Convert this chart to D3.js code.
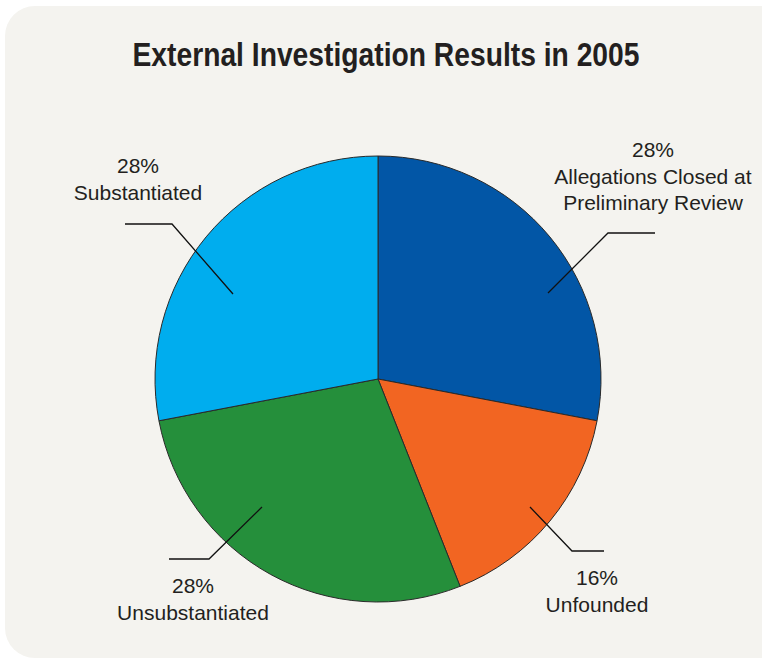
<!DOCTYPE html>
<html>
<head>
<meta charset="utf-8">
<script src="https://cdn.jsdelivr.net/npm/d3@7/dist/d3.min.js"></script>
<style>
  html, body { margin: 0; padding: 0; background: #ffffff; }
  svg { display: block; }
</style>
</head>
<body>
<script>
// Outcome of external investigations, 2005 (percent of cases)
const categories = [
  "Allegations Closed at Preliminary Review",
  "Unfounded",
  "Unsubstantiated",
  "Substantiated"
];
const values = [28, 16, 28, 28];
const sliceColors = ["#0256a6", "#f26522", "#258f3b", "#00adee"];
// Label lines as drawn (category text split for wrapping)
const labelLines = [
  ["Allegations Closed at", "Preliminary Review"],
  ["Unfounded"],
  ["Unsubstantiated"],
  ["Substantiated"]
];

const width = 762, height = 662;
const cx = 378, cy = 379, radius = 223;

// Callout layout: leader start (inside slice, offset from centre), elbow, end, label anchor
const callouts = [
  { pts: [[170, -86], [230, -146], [277, -146]], text: [653, 157] },
  { pts: [[152, 128], [194, 172], [226, 172]], text: [597, 585] },
  { pts: [[-116, 128], [-169, 180], [-209, 180]], text: [193, 593] },
  { pts: [[-145, -85], [-206, -155], [-253, -155]], text: [138, 173] }
];

const svg = d3.select("body").append("svg")
  .attr("width", width)
  .attr("height", height);

// Panel
svg.append("rect")
  .attr("x", 5).attr("y", 6)
  .attr("width", 790).attr("height", 652)
  .attr("rx", 30).attr("ry", 30)
  .attr("fill", "#f4f3ef");

// Title
svg.append("text")
  .attr("x", 386).attr("y", 66)
  .attr("text-anchor", "middle")
  .attr("font-family", "'Liberation Sans Narrow', 'Arial Narrow', 'Liberation Sans', Arial, sans-serif")
  .attr("font-weight", "bold")
  .attr("font-size", 33)
  .attr("fill", "#231f20")
  .attr("textLength", 507)
  .attr("lengthAdjust", "spacingAndGlyphs")
  .text("External Investigation Results in 2005");

// Pie
const pie = d3.pie().sort(null).value(d => d)(values);
const arc = d3.arc().innerRadius(0).outerRadius(radius);

const g = svg.append("g").attr("transform", `translate(${cx},${cy})`);

g.selectAll("path.slice")
  .data(pie)
  .join("path")
  .attr("class", "slice")
  .attr("d", arc)
  .attr("fill", (d, i) => sliceColors[i])
  .attr("stroke", "#2a2a2a")
  .attr("stroke-width", 1)
  .attr("stroke-linejoin", "round");

// Leader lines
const line = d3.line();
g.selectAll("path.leader")
  .data(callouts)
  .join("path")
  .attr("class", "leader")
  .attr("d", d => line(d.pts))
  .attr("fill", "none")
  .attr("stroke", "#111111")
  .attr("stroke-width", 1.3);

// Labels: percentage on first line, category below
const lineH = 26.5;
callouts.forEach((c, i) => {
  const t = svg.append("text")
    .attr("x", c.text[0]).attr("y", c.text[1])
    .attr("text-anchor", "middle")
    .attr("font-family", "'Liberation Sans', Arial, sans-serif")
    .attr("font-size", 21)
    .attr("fill", "#231f20");
  t.append("tspan").attr("x", c.text[0]).attr("dy", 0).text(values[i] + "%");
  labelLines[i].forEach(l => {
    t.append("tspan").attr("x", c.text[0]).attr("dy", lineH).text(l);
  });
});
</script>
</body>
</html>
